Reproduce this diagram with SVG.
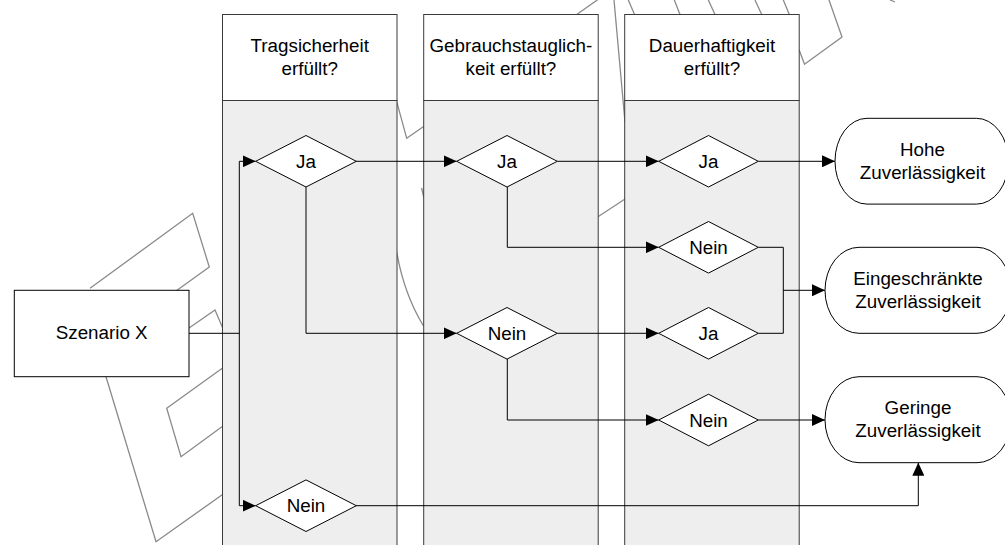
<svg xmlns="http://www.w3.org/2000/svg" width="1005" height="545" viewBox="0 0 1005 545">
<style>
.wm{fill:none;stroke:#8a8a8a;stroke-width:1.3}
.lane{fill:#eeeeee;stroke:#3a3a3a;stroke-width:1}
.hdr{fill:#ffffff;stroke:#3a3a3a;stroke-width:1}
.dia{fill:#ffffff;stroke:#000;stroke-width:1}
.box{fill:#ffffff;stroke:#000;stroke-width:1}
.t{font-family:"Liberation Sans",Arial,sans-serif;font-size:18.8px;fill:#000;text-anchor:middle}
.c{fill:none;stroke:#000;stroke-width:1}
</style>
<defs>
<marker id="ah" markerUnits="userSpaceOnUse" markerWidth="13" markerHeight="12" refX="13" refY="6" orient="auto">
<path d="M0,0 L13,6 L0,12 z" fill="#000"/>
</marker>
</defs>
<rect width="1005" height="545" fill="#ffffff"/>
<g id="watermark">
<polyline class="wm" points="90,288.3 192.7,213.3 209.3,267 176,291"/>
<polyline class="wm" points="188.3,328.5 215,310 224,331"/>
<polyline class="wm" points="106,376.7 156,541.7 224,493.5"/>
<polyline class="wm" points="224,367 166.7,408.3 181,456.7 224,425.2"/>
<polyline class="wm" points="396.7,101.7 406.7,138.3 424,126.2"/>
<line class="wm" x1="421.6" y1="188" x2="424" y2="198"/>
<path class="wm" d="M396.7,252 Q404,294 423.5,326"/>
<line class="wm" x1="576.7" y1="14.5" x2="598" y2="-0.5"/>
<line class="wm" x1="614" y1="0" x2="625" y2="122"/>
<line class="wm" x1="598" y1="216.7" x2="625" y2="199"/>
<line class="wm" x1="628.3" y1="0" x2="634.5" y2="14.5"/>
<line class="wm" x1="674.3" y1="0" x2="680" y2="14.5"/>
<line class="wm" x1="708.3" y1="0" x2="715" y2="14.5"/>
<line class="wm" x1="755" y1="0" x2="761.7" y2="14.5"/>
<line class="wm" x1="783.3" y1="0" x2="789.3" y2="14.5"/>
<polyline class="wm" points="829,0 842,37 804.5,64.3 799,49.5"/>
<line class="wm" x1="890" y1="0" x2="895" y2="2"/>
</g>
<g id="lane1">
<rect class="lane" x="222.5" y="100.5" width="174.5" height="450"/>
<rect class="hdr" x="222.5" y="14.5" width="174.5" height="86"/>
<text class="t" x="309.75" y="52.3">Tragsicherheit</text>
<text class="t" x="309.75" y="75.3">erfüllt?</text>
</g>
<g id="lane2">
<rect class="lane" x="423.7" y="100.5" width="174.5" height="450"/>
<rect class="hdr" x="423.7" y="14.5" width="174.5" height="86"/>
<text class="t" x="510.9" y="52.3">Gebrauchstauglich-</text>
<text class="t" x="510.9" y="75.3">keit erfüllt?</text>
</g>
<g id="lane3">
<rect class="lane" x="624.7" y="100.5" width="174.5" height="450"/>
<rect class="hdr" x="624.7" y="14.5" width="174.5" height="86"/>
<text class="t" x="712" y="52.3">Dauerhaftigkeit</text>
<text class="t" x="712" y="75.3">erfüllt?</text>
</g>
<g id="connectors">
<polyline class="c" points="189,333.3 239.3,333.3"/>
<polyline class="c" points="239.3,161.3 239.3,505.7"/>
<line class="c" x1="239.3" y1="161.3" x2="255.7" y2="161.3" marker-end="url(#ah)"/>
<line class="c" x1="239.3" y1="505.7" x2="255.7" y2="505.7" marker-end="url(#ah)"/>
<line class="c" x1="356" y1="161.3" x2="456.7" y2="161.3" marker-end="url(#ah)"/>
<polyline class="c" points="306,187 306,333.3 456.7,333.3" marker-end="url(#ah)"/>
<line class="c" x1="557.3" y1="161.3" x2="658.7" y2="161.3" marker-end="url(#ah)"/>
<polyline class="c" points="507.3,187 507.3,247.3 658.7,247.3" marker-end="url(#ah)"/>
<line class="c" x1="557.3" y1="333.3" x2="658.7" y2="333.3" marker-end="url(#ah)"/>
<polyline class="c" points="507.3,359 507.3,420 658.7,420" marker-end="url(#ah)"/>
<line class="c" x1="758.3" y1="161.3" x2="835" y2="161.3" marker-end="url(#ah)"/>
<polyline class="c" points="758.3,247.3 783.3,247.3 783.3,333.3 758.3,333.3"/>
<line class="c" x1="783.3" y1="290.3" x2="825" y2="290.3" marker-end="url(#ah)"/>
<line class="c" x1="758.3" y1="420" x2="825" y2="420" marker-end="url(#ah)"/>
<polyline class="c" points="356,505.7 918.3,505.7 918.3,462.7" marker-end="url(#ah)"/>
</g>
<g id="szenario">
<rect class="box" x="14.3" y="290.3" width="174.7" height="86.4"/>
<text class="t" x="101.7" y="339">Szenario X</text>
</g>
<g id="d1ja">
<polygon class="dia" points="255.7,161.3 306,135.5 356.3,161.3 306,187"/>
<text class="t" x="306" y="167.8">Ja</text>
</g>
<g id="d1nein">
<polygon class="dia" points="255.7,505.7 306,479.9 356.3,505.7 306,531.5"/>
<text class="t" x="306" y="512.2">Nein</text>
</g>
<g id="d2ja">
<polygon class="dia" points="456.7,161.3 507,135.5 557.3,161.3 507,187"/>
<text class="t" x="507" y="167.8">Ja</text>
</g>
<g id="d2nein">
<polygon class="dia" points="456.7,333.3 507,307.5 557.3,333.3 507,359.1"/>
<text class="t" x="507" y="339.8">Nein</text>
</g>
<g id="d3ja1">
<polygon class="dia" points="658.7,161.3 708.5,135.5 758.3,161.3 708.5,187"/>
<text class="t" x="708.5" y="167.8">Ja</text>
</g>
<g id="d3nein1">
<polygon class="dia" points="658.7,247.3 708.5,221.5 758.3,247.3 708.5,273.1"/>
<text class="t" x="708.5" y="253.8">Nein</text>
</g>
<g id="d3ja2">
<polygon class="dia" points="658.7,333.3 708.5,307.5 758.3,333.3 708.5,359.1"/>
<text class="t" x="708.5" y="339.8">Ja</text>
</g>
<g id="d3nein2">
<polygon class="dia" points="658.7,420 708.5,394.2 758.3,420 708.5,445.8"/>
<text class="t" x="708.5" y="426.5">Nein</text>
</g>
<g id="hohe">
<rect class="box" x="835" y="118.3" width="173.5" height="85.8" rx="32" ry="42.9"/>
<text class="t" x="922.5" y="155.5">Hohe</text>
<text class="t" x="922.5" y="178.5">Zuverlässigkeit</text>
</g>
<g id="eingeschraenkt">
<rect class="box" x="825" y="247.3" width="186" height="86" rx="34" ry="43"/>
<text class="t" x="918" y="284.7">Eingeschränkte</text>
<text class="t" x="918" y="307.7">Zuverlässigkeit</text>
</g>
<g id="geringe">
<rect class="box" x="825" y="376.7" width="186" height="86" rx="34" ry="43"/>
<text class="t" x="918" y="414.3">Geringe</text>
<text class="t" x="918" y="437.3">Zuverlässigkeit</text>
</g>
</svg>
